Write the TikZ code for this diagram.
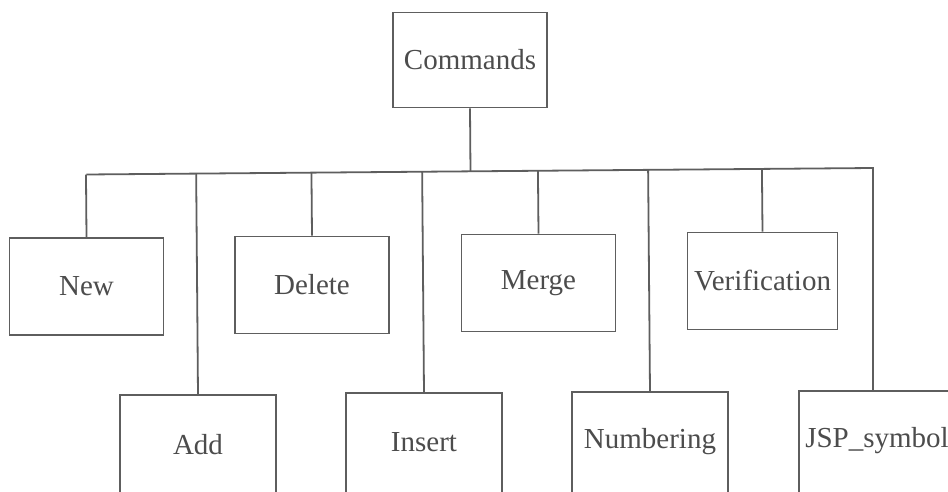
\documentclass[tikz,border=0pt]{standalone}
\usepackage{fontspec}
\setmainfont{Liberation Serif}
\usetikzlibrary{calc}
\definecolor{ink}{HTML}{5E5E5E}
\definecolor{txt}{HTML}{4C4C4C}
\tikzset{
  cmdbox/.style={draw=ink, line width=1.8pt, minimum width=154pt, minimum height=97pt,
    inner sep=0pt, text=txt, font=\fontsize{29}{34}\selectfont},
  % lower row: boxes run on past the bottom edge of the page
  lowbox/.style={cmdbox, draw=none},
  wire/.style={draw=ink, line width=1.8pt}
}
\begin{document}
\begin{tikzpicture}[x=1pt,y=-1pt]
  \useasboundingbox (0,0) rectangle (948,492);
  \clip (0,0) rectangle (948,492);
  \fill[white] (0,0) rectangle (948,492);

  % root and the command boxes
  \node[cmdbox, minimum height=95pt] (cmd) at (470,60) {Commands};
  \node[cmdbox] (new) at (86.5,286.5) {New};
  \node[lowbox] (add) at (198,444.5) {Add};
  \node[cmdbox] (del) at (312,285) {Delete};
  \node[lowbox] (ins) at (424,442.5) {Insert};
  \node[cmdbox] (mrg) at (538.5,283) {Merge};
  \node[lowbox] (num) at (650,441.5) {Numbering};
  \node[cmdbox, minimum width=150pt] (ver) at (762.5,281) {Verification};
  \node[lowbox] (jsp) at (877,440.5) {JSP\_symbol};

  % outlines of the lower row, open at the bottom
  \foreach \n in {add,ins,num,jsp}
    \draw[wire] ([yshift=-40pt]\n.south west) -- (\n.north west)
      -- (\n.north east) -- ([yshift=-40pt]\n.south east);

  % horizontal bus
  \coordinate (busL) at (86.5,174.5);
  \coordinate (busR) at (873,168);
  \draw[wire] (busL) -- (busR) -- (busR |- jsp.north);

  % stems from the bus down to each box
  \draw[wire] (cmd.south) -- ($(busL)!(cmd.south)!(busR)$);
  \foreach \n in {new,add,del,ins,mrg,num,ver}
    \draw[wire] (\n.north) -- ($(busL)!(\n.north)!(busR)$);
\end{tikzpicture}
\end{document}
